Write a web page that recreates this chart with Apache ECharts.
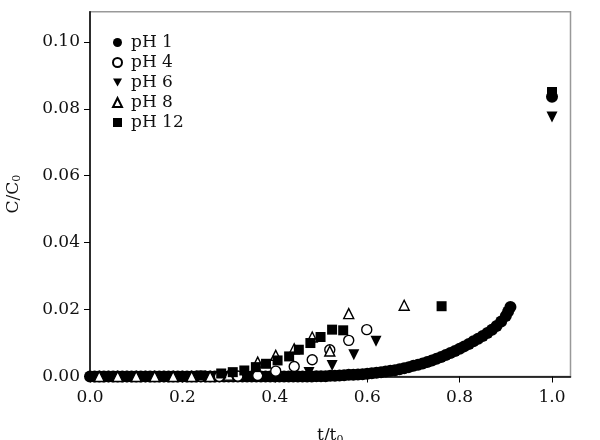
<!DOCTYPE html>
<html>
<head>
<meta charset="utf-8">
<script src="https://cdn.jsdelivr.net/npm/echarts@6/dist/echarts.min.js"></script>
<style>
  html, body { margin: 0; padding: 0; background: #fff; }
  #chart { width: 600px; height: 440px; }
</style>
</head>
<body>
<div id="chart"></div>
<script>
// ticks
const xTicks = [0, 0.2, 0.4, 0.6, 0.8, 1.0];
const yTicks = [0, 0.02, 0.04, 0.06, 0.08, 0.10];

// pH 1 (dense filled circles)
const ph1T = [0, 0.01, 0.02, 0.03, 0.04, 0.05, 0.06, 0.07, 0.08, 0.09, 0.10, 0.11, 0.12, 0.13, 0.14, 0.15,
  0.16, 0.17, 0.18, 0.19, 0.20, 0.21, 0.22, 0.23, 0.24, 0.25, 0.26, 0.27, 0.28, 0.29, 0.30, 0.31, 0.32,
  0.33, 0.34, 0.35, 0.36, 0.37, 0.38, 0.39, 0.40, 0.41, 0.42, 0.43, 0.44, 0.45, 0.46, 0.47, 0.48, 0.49,
  0.50, 0.51, 0.52, 0.53, 0.54, 0.55, 0.56, 0.57, 0.58, 0.59, 0.60, 0.61, 0.62, 0.63, 0.64, 0.65, 0.66,
  0.67, 0.68, 0.69, 0.70, 0.71, 0.72, 0.73, 0.74, 0.75, 0.76, 0.77, 0.78, 0.79, 0.80, 0.81, 0.82, 0.83,
  0.84, 0.85, 0.86, 0.87, 0.88, 0.89, 0.90, 0.905, 0.91, 1.0];
const ph1C = [0, 0, 0, 0, 0, 0, 0, 0, 0, 0, 0, 0, 0, 0, 0, 0,
  0, 0, 0, 0, 0, 0, 0, 0, 0, 0, 0, 0, 0, 0, 0, 0, 0,
  0, 0, 0, 0, 0, 0, 0, 0, 0, 0, 0, 0, 0, 0, 0, 0, 0.0001,
  0.0001, 0.0001, 0.0002, 0.0002, 0.0003, 0.0004, 0.0005, 0.0005, 0.0006, 0.0007, 0.0008, 0.0010, 0.0011, 0.0013, 0.0015, 0.0017, 0.0019,
  0.0022, 0.0025, 0.0028, 0.0032, 0.0035, 0.0039, 0.0043, 0.0048, 0.0053, 0.0058, 0.0064, 0.0070, 0.0076, 0.0083, 0.0090, 0.0097, 0.0105,
  0.0113, 0.0121, 0.0130, 0.0140, 0.0151, 0.0164, 0.0181, 0.0194, 0.0208, 0.0836];

// pH 4 (open circles)
const ph4T = [0.04, 0.08, 0.12, 0.16, 0.20, 0.24, 0.28, 0.32, 0.363, 0.402, 0.442, 0.481, 0.519, 0.560, 0.599];
const ph4C = [0, 0, 0, 0, 0, 0, 0, 0.0001, 0.0003, 0.0016, 0.0030, 0.0050, 0.0080, 0.0108, 0.0140];

// pH 6 (filled down triangles)
const ph6T = [0.06, 0.14, 0.22, 0.30, 0.38, 0.474, 0.524, 0.571, 0.619, 1.0];
const ph6C = [0, 0, 0, 0, 0, 0.0012, 0.0033, 0.0065, 0.0105, 0.0775];

// pH 8 (open up triangles)
const ph8T = [0.02, 0.06, 0.10, 0.14, 0.18, 0.22, 0.26, 0.30, 0.363, 0.402, 0.442, 0.481, 0.519, 0.560, 0.680];
const ph8C = [0, 0, 0, 0, 0, 0, 0, 0.0004, 0.0043, 0.0063, 0.0083, 0.0118, 0.0076, 0.0188, 0.0213];

// pH 12 (filled squares)
const ph12T = [0.04, 0.08, 0.12, 0.16, 0.20, 0.24, 0.284, 0.309, 0.334, 0.359, 0.381, 0.406, 0.431, 0.452,
  0.477, 0.499, 0.524, 0.548, 0.761, 1.0];
const ph12C = [0, 0, 0, 0, 0, 0.0003, 0.0009, 0.0013, 0.0018, 0.0028, 0.0038, 0.0048, 0.0060, 0.0080,
  0.0100, 0.0118, 0.0140, 0.0138, 0.0210, 0.0850];

const FONT = 'DejaVu Serif';
const INK = '#111';
const pair = (t, c) => t.map((v, i) => [v, c[i]]);

const filled = { color: '#000', opacity: 1 };
const open = { color: '#fff', borderColor: '#000', borderWidth: 1.4, opacity: 1 };

const chart = echarts.init(document.getElementById('chart'));
chart.setOption({
  animation: false,
  backgroundColor: '#fff',
  grid: {
    left: 90, right: 29.5, top: 11.7, bottom: 63.5,
    outerBoundsMode: 'none',
    containLabel: false,
    show: true, borderColor: '#999', borderWidth: 1.5
  },
  legend: {
    orient: 'vertical',
    left: 112, top: 34,
    padding: 0,
    itemGap: 3,
    itemWidth: 9, itemHeight: 9,
    textStyle: { fontFamily: FONT, fontSize: 17, color: INK, lineHeight: 16, padding: [0, 0, 0, 4] },
    data: ['pH 1', 'pH 4', 'pH 6', 'pH 8', 'pH 12']
  },
  xAxis: {
    type: 'value',
    min: 0, max: 1.04,
    name: '{a|t/t}{b|0}',
    nameLocation: 'middle',
    nameGap: 50,
    nameTextStyle: {
      rich: {
        a: { fontFamily: FONT, fontSize: 17, color: INK },
        b: { fontFamily: FONT, fontSize: 11, color: INK, verticalAlign: 'bottom', padding: [8, 0, 0, 0] }
      }
    },
    axisLine: { lineStyle: { color: '#000', width: 1.5 } },
    axisTick: { show: true, length: 6, customValues: xTicks, lineStyle: { color: '#000' } },
    axisLabel: {
      customValues: xTicks, margin: 13,
      fontFamily: FONT, fontSize: 17, color: INK,
      formatter: v => v.toFixed(1)
    },
    splitLine: { show: false }
  },
  yAxis: {
    type: 'value',
    min: 0, max: 0.109,
    name: '{a|C/C}{b|0}',
    nameLocation: 'middle',
    nameGap: 67,
    nameTextStyle: {
      rich: {
        a: { fontFamily: FONT, fontSize: 17, color: INK },
        b: { fontFamily: FONT, fontSize: 11, color: INK, verticalAlign: 'bottom', padding: [8, 0, 0, 0] }
      }
    },
    axisLine: { show: true, lineStyle: { color: '#000', width: 1.5 } },
    axisTick: { show: true, length: 6, customValues: yTicks, lineStyle: { color: '#000' } },
    axisLabel: {
      customValues: yTicks, margin: 10,
      fontFamily: FONT, fontSize: 17, color: INK,
      formatter: v => v.toFixed(2)
    },
    splitLine: { show: false }
  },
  series: [
    { name: 'pH 1', type: 'scatter', clip: false, symbol: 'circle', symbolSize: 12,
      itemStyle: filled, data: pair(ph1T, ph1C) },
    { name: 'pH 4', type: 'scatter', clip: false, symbol: 'circle', symbolSize: 10,
      itemStyle: open, data: pair(ph4T, ph4C) },
    { name: 'pH 6', type: 'scatter', clip: false, symbol: 'path://M0,0 L10,0 L5,9 Z', symbolSize: 11,
      itemStyle: filled, data: pair(ph6T, ph6C) },
    { name: 'pH 8', type: 'scatter', clip: false, symbol: 'triangle', symbolSize: 10,
      itemStyle: open, data: pair(ph8T, ph8C) },
    { name: 'pH 12', type: 'scatter', clip: false, symbol: 'rect', symbolSize: 10,
      itemStyle: filled, data: pair(ph12T, ph12C) }
  ]
});
</script>
</body>
</html>
